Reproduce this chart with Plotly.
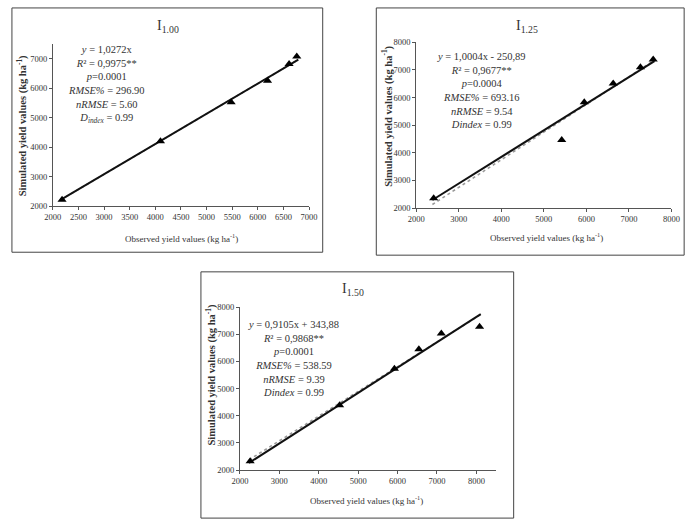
import numpy as np
import plotly.graph_objects as go

W, H = 699, 528

# ---- data ----
obs_100 = [2180, 4100, 5480, 6190, 6610, 6760]
sim_100 = [2220, 4200, 5530, 6260, 6830, 7080]
obs_125 = [2410, 5420, 5950, 6630, 7270, 7570]
sim_125 = [2355, 4460, 5830, 6510, 7100, 7380]
obs_150 = [2260, 4530, 5920, 6540, 7110, 8080]
sim_150 = [2325, 4390, 5730, 6450, 7030, 7280]

titles = ["I<sub>1.00</sub>", "I<sub>1.25</sub>", "I<sub>1.50</sub>"]
# fitted (equation, dotted) lines: slope, intercept
eq_slope = [1.0272, 1.0004, 0.9105]
eq_int = [0.0, -250.89, 343.88]
# solid trend lines as drawn
solid_slope = [1.0272, 0.963, 0.933]
solid_int = [0.0, 0.0, 180.0]

stats_text = [
    "<i>y</i> = 1,0272x<br><i>R</i>² = 0,9975**<br><i>p</i>=0.0001<br><i>RMSE%</i> = 296.90<br><i>nRMSE</i> = 5.60<br><i>D</i><sub><i>index</i></sub> = 0.99",
    "<i>y</i> = 1,0004x - 250,89<br><i>R</i>² = 0,9677**<br><i>p</i>=0.0004<br><i>RMSE%</i> = 693.16<br><i>nRMSE</i> = 9.54<br><i>Dindex</i> = 0.99",
    "<i>y</i> = 0,9105x + 343,88<br><i>R</i>² = 0,9868**<br><i>p</i>=0.0001<br><i>RMSE%</i> = 538.59<br><i>nRMSE</i> = 9.39<br><i>Dindex</i> = 0.99",
]
x_ranges = [[2000, 7000], [2000, 8000], [2000, 8500]]
y_ranges = [[2000, 7500], [2000, 8000], [2000, 8000]]
x_dticks = [500, 1000, 1000]

# ---- layout geometry (pixels) ----
plot_px = [  # x0, x1, ytop, ybottom
    (45, 308, 40, 205),
    (418, 680, 38, 207),
    (237, 500, 308, 474),
]
border_px = [(3, 322, 3, 252), (377, 693, 3, 255), (197, 518, 272, 523)]
title_px = [(163, 22), (532, 22), (353, 290)]
stats_px = [(100, 81), (485, 87), (292, 360)]
xtitle_px = [(177, 237), (552, 236), (367, 505)]
ytitle_px = [(13, 123), (388, 114), (207, 377)]

def px(x):
    return x / W

def py(y):
    return 1 - y / H

FONT = "Liberation Serif, Times New Roman, serif"
fig = go.Figure()
obs_all = [obs_100, obs_125, obs_150]
sim_all = [sim_100, sim_125, sim_150]

def note(text, x, y, size, angle=0):
    fig.add_annotation(text=text, x=px(x), y=py(y), xref="paper", yref="paper",
                       xanchor="center", yanchor="middle", showarrow=False,
                       align="center", textangle=angle,
                       font=dict(family=FONT, size=size, color="#333333"))

for i in range(3):
    sfx = "" if i == 0 else str(i + 1)
    xa, ya = "x" + sfx, "y" + sfx
    xo = np.array(obs_all[i], dtype=float)
    xl = np.array([xo.min() - 30, xo.max() + 30])
    fig.add_trace(go.Scatter(x=xl, y=eq_slope[i] * xl + eq_int[i], mode="lines",
                             line=dict(color="#9a9a9a", width=1.6, dash="dot"),
                             xaxis=xa, yaxis=ya, showlegend=False))
    fig.add_trace(go.Scatter(x=xl, y=solid_slope[i] * xl + solid_int[i], mode="lines",
                             line=dict(color="#111111", width=2),
                             xaxis=xa, yaxis=ya, showlegend=False))
    fig.add_trace(go.Scatter(x=obs_all[i], y=sim_all[i], mode="markers",
                             marker=dict(symbol="triangle-up", size=8, color="black"),
                             xaxis=xa, yaxis=ya, showlegend=False))
    x0, x1, yt, yb = plot_px[i]
    axcommon = dict(showgrid=False, zeroline=False, showline=True, linecolor="#555555",
                    linewidth=1, ticks="outside", ticklen=3, tickcolor="#555555",
                    tickfont=dict(family=FONT, size=8.5, color="#333333"))
    fig.layout["xaxis" + sfx] = dict(domain=[px(x0), px(x1)], range=x_ranges[i], anchor=ya,
                                     tick0=2000, dtick=x_dticks[i], **axcommon)
    fig.layout["yaxis" + sfx] = dict(domain=[py(yb), py(yt)], range=y_ranges[i], anchor=xa,
                                     tick0=2000, dtick=1000, **axcommon)
    b = border_px[i]
    fig.add_shape(type="rect", xref="paper", yref="paper", x0=px(b[0]), x1=px(b[1]),
                  y0=py(b[3]), y1=py(b[2]), line=dict(color="#444444", width=1))
    note(titles[i], title_px[i][0], title_px[i][1], 14)
    note(stats_text[i], stats_px[i][0], stats_px[i][1], 10.5)
    note("Observed yield values (kg ha<sup>-1</sup>)", xtitle_px[i][0], xtitle_px[i][1], 9)
    note("<b>Simulated yield values (kg ha<sup>-1</sup>)</b>", ytitle_px[i][0], ytitle_px[i][1],
         10.5, angle=-90)

fig.update_layout(width=W, height=H, margin=dict(l=0, r=0, t=0, b=0),
                  paper_bgcolor="white", plot_bgcolor="white", showlegend=False)
fig.write_html("out.html")
